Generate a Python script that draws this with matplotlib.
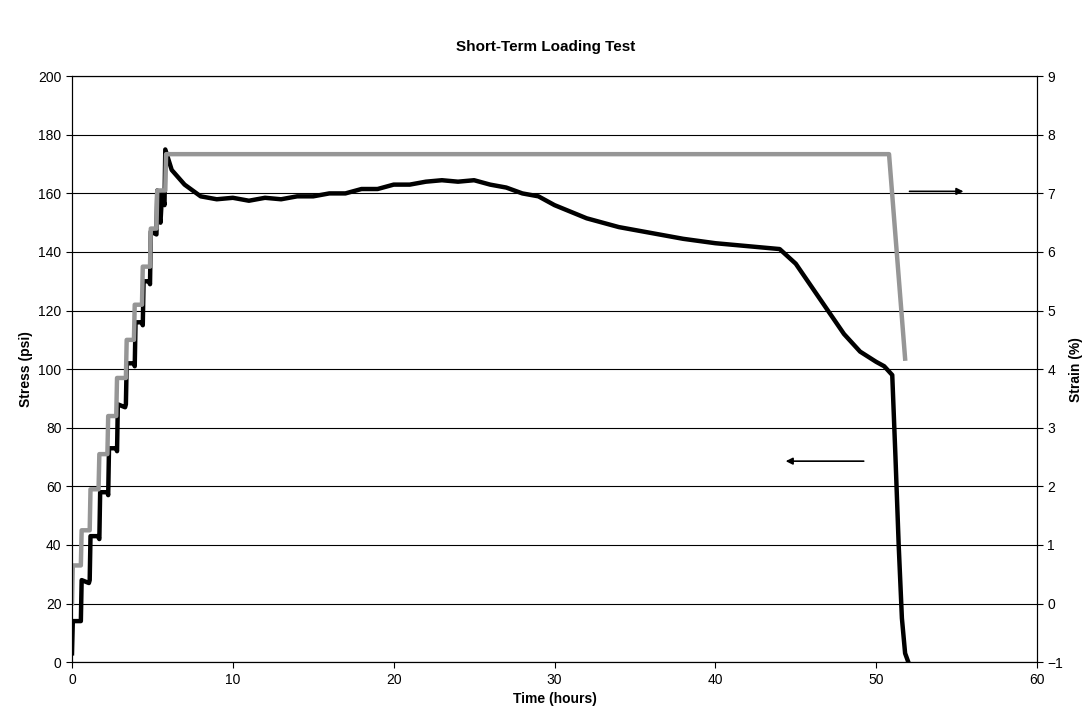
import numpy as np
import matplotlib
matplotlib.use("Agg")
import matplotlib.pyplot as plt

plt.rcParams['font.family'] = ['Liberation Sans', 'DejaVu Sans']

# stress (psi) vs time (hours)
stress_t = [0.0, 0.05, 0.1, 0.55, 0.6, 1.05, 1.1, 1.15, 1.6, 1.7, 1.75, 2.2, 2.25, 2.3, 2.75, 2.8, 2.85,
            3.3, 3.35, 3.4, 3.85, 3.9, 3.95, 4.35, 4.4, 4.45, 4.8, 4.85, 4.9, 5.25, 5.3, 5.35, 5.5, 5.6,
            5.75, 5.8, 6.2, 7, 8, 9, 10, 11, 12, 13, 14, 15, 16, 17, 18, 19, 20, 21, 22, 23, 24, 25,
            26, 27, 28, 29, 30, 32, 34, 36, 38, 40, 42, 44, 45, 46, 47, 48, 49, 50, 50.5, 51,
            51.2, 51.4, 51.6, 51.8, 52]
stress = [3, 14, 14, 14, 28, 27, 28, 43, 43, 42, 58, 58, 57, 73, 73, 72, 88, 87, 88, 102, 102, 101, 116,
          116, 115, 130, 130, 129, 147, 146, 161, 155, 150, 160, 156, 175, 168, 163, 159, 158, 158.5,
          157.5, 158.5, 158, 159, 159, 160, 160, 161.5, 161.5, 163, 163, 164, 164.5, 164, 164.5,
          163, 162, 160, 159, 156, 151.5, 148.5, 146.5, 144.5, 143, 142, 141, 136, 128, 120, 112,
          106, 102.5, 101, 98, 70, 40, 15, 3, 0]

# strain (%) vs time (hours)
strain_t = [0.0, 0.05, 0.55, 0.6, 1.1, 1.15, 1.65, 1.7, 2.2, 2.25, 2.75, 2.8, 3.35, 3.4, 3.85, 3.9,
            4.35, 4.4, 4.85, 4.9, 5.25, 5.3, 5.8, 5.85, 50.8, 51.8]
strain = [0.0, 0.65, 0.65, 1.25, 1.25, 1.95, 1.95, 2.55, 2.55, 3.2, 3.2, 3.85, 3.85, 4.5, 4.5, 5.1,
          5.1, 5.75, 5.75, 6.4, 6.4, 7.05, 7.05, 7.67, 7.67, 4.18]

fig = plt.figure(figsize=(10.91, 7.26), dpi=100)
ax = fig.add_axes([0.066, 0.088, 0.8845, 0.807])
ax2 = ax.twinx()

ax.plot(stress_t, stress, color='black', lw=3.2)
ax2.plot(strain_t, strain, color='#969696', lw=3.2)

ax.set_xlim(0, 60)
ax.set_ylim(0, 200)
ax2.set_ylim(-1, 9)
ax.set_xticks(range(0, 61, 10))
ax.set_yticks(range(0, 201, 20))
ax2.set_yticks(range(-1, 10))
ax.yaxis.grid(True, color='black', lw=0.8)
ax.set_axisbelow(True)
for a in (ax, ax2):
    a.tick_params(labelsize=10, length=4)

ax.set_xlabel('Time (hours)', fontsize=10, fontweight='bold')
ax.set_ylabel('Stress (psi)', fontsize=10, fontweight='bold')
ax2.set_ylabel('Strain (%)', fontsize=10, fontweight='bold')
fig.suptitle('Short-Term Loading Test', fontsize=11, fontweight='bold', y=0.945)

ax.annotate('', xy=(44.2, 68.6), xytext=(49.4, 68.6),
            arrowprops=dict(arrowstyle='-|>', color='black', lw=1.2, mutation_scale=10))
ax.annotate('', xy=(55.6, 160.7), xytext=(51.9, 160.7),
            arrowprops=dict(arrowstyle='-|>', color='black', lw=1.2, mutation_scale=10))

fig.savefig('out.png', dpi=100)
